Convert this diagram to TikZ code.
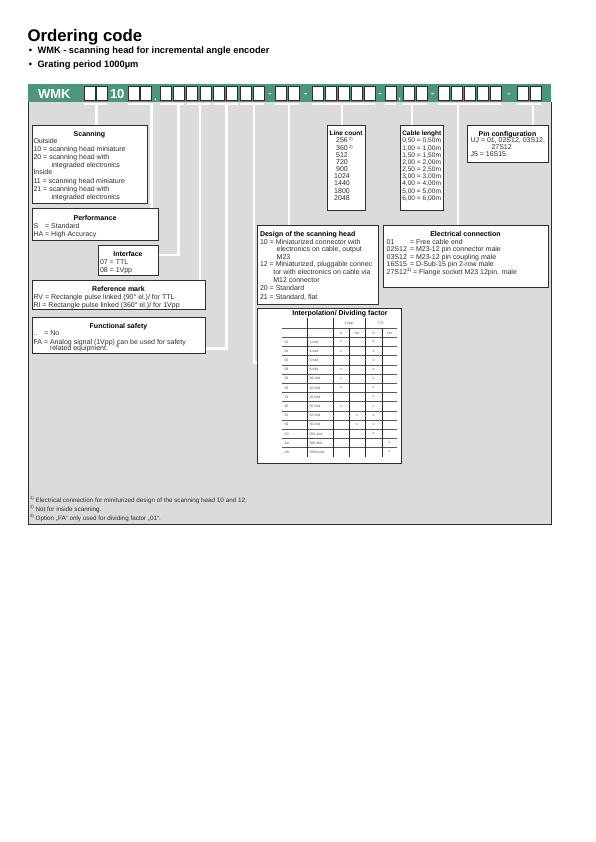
\documentclass[tikz,border=0pt]{standalone}
\usepackage{fontspec}
\setmainfont{Liberation Sans}
\usetikzlibrary{calc}
\definecolor{bargreen}{RGB}{76,151,124}
\definecolor{panelgrey}{RGB}{219,219,219}
\definecolor{txtgrey}{RGB}{45,45,45}
\definecolor{tabtxt}{RGB}{85,85,85}
\definecolor{edgecol}{RGB}{45,45,45}
\newcommand\fsbody{\fontsize{7}{8}\selectfont}
\newcommand\fsnarrow{\fontsize{6.5}{8}\selectfont}
\newcommand\fscab{\fontsize{6.6}{8}\selectfont}
\newcommand\fstab{\fontsize{3.5}{4}\selectfont}
\newcommand\fsfoot{\fontsize{6.3}{7.5}\selectfont}
\newcommand\fssup{\fontsize{4.3}{5}\selectfont}
\begin{document}
\begin{tikzpicture}[x=1pt,y=-1pt,
  every node/.style={inner sep=0pt, outer sep=0pt},
  cbox/.style={draw=edgecol, fill=white, line width=0.6pt, minimum width=11pt, minimum height=14pt, anchor=north west},
  dgeom/.style={anchor=north west},
  dbox/.style={draw=edgecol, fill=white, line width=0.7pt},
  leader/.style={draw=white, line width=2.5pt},
  bracket/.style={draw=white, line width=2pt},
  bt/.style={font=\fsbody\bfseries, text=black, anchor=base},
  btn/.style={font=\fsnarrow\bfseries, text=black, anchor=base},
  btl/.style={font=\fsbody\bfseries, text=black, anchor=base west},
  tx/.style={font=\fsbody, text=txtgrey, anchor=base west},
  txc/.style={font=\fsbody, text=txtgrey, anchor=base},
  cab/.style={font=\fscab, text=txtgrey, anchor=base west},
  tcell/.style={font=\fstab, text=tabtxt, anchor=base west},
  tmark/.style={font=\fstab, text=tabtxt, anchor=center},
  thead/.style={font=\fstab, text=tabtxt, anchor=base},
  tvl/.style={draw=edgecol, line width=0.8pt},
  thl/.style={draw=edgecol!80, line width=0.5pt},
  fn/.style={font=\fsfoot, text=txtgrey, anchor=base west},
  barsym/.style={font=\fontsize{9}{9}\selectfont\bfseries, text=white, anchor=base},
  bartxt/.style={font=\fontsize{13}{13}\selectfont\bfseries, text=white, anchor=base west}
]
\useasboundingbox (0,0) rectangle (595,842);

% ---------- heading ----------
\node[anchor=base west, font=\fontsize{16.8}{18}\selectfont\bfseries] (title) at (27.5,42) {Ordering code};
\node[anchor=base west, font=\fontsize{9.3}{11}\selectfont\bfseries] (bul1) at (28.8,54) {•};
\node[anchor=base west, font=\fontsize{9.3}{11}\selectfont\bfseries] (bul1t) at (37.5,54) {WMK - scanning head for incremental angle encoder};
\node[anchor=base west, font=\fontsize{9.3}{11}\selectfont\bfseries] (bul2) at (28.8,67.5) {•};
\node[anchor=base west, font=\fontsize{9.3}{11}\selectfont\bfseries] (bul2t) at (37.5,67.5) {Grating period 1000µm};

% ---------- panel and bar ----------
\node[fill=panelgrey, minimum width=523pt, minimum height=422pt, anchor=north west] (panel) at (28,102) {};
\draw[draw=edgecol, line width=1pt] (panel.north west) -- (panel.south west) -- (panel.south east) -- (panel.north east);
\node[fill=bargreen, minimum width=523pt, minimum height=18pt, anchor=north west] (bar) at (28,84) {};

\node[bartxt] (wmk) at (38,98.5) {WMK};
\node[bartxt] (ten) at (110,98.5) {10};

\foreach \x [count=\i] in {84,96} \node[cbox] (a\i) at (\x,86) {};
\foreach \x [count=\i] in {128,140} \node[cbox] (p\i) at (\x,86) {};
\foreach \x [count=\i] in {160,173.3,186.6,200,213.3,226.6,240,253.3} \node[cbox] (c\i) at (\x,86) {};
\foreach \x [count=\i] in {275,288} \node[cbox] (d\i) at (\x,86) {};
\foreach \x [count=\i] in {312,325,338,351,364} \node[cbox] (e\i) at (\x,86) {};
\node[cbox] (f1) at (385,86) {};
\foreach \x [count=\i] in {403,416} \node[cbox] (g\i) at (\x,86) {};
\foreach \x [count=\i] in {438,451,464,477,490} \node[cbox] (h\i) at (\x,86) {};
\foreach \x [count=\i] in {517,530} \node[cbox] (k\i) at (\x,86) {};

\node[barsym] (dot1) at (155.5,101) {.};
\node[barsym] (m1) at (269.8,96.3) {-};
\node[barsym] (m2) at (305.5,96.3) {-};
\node[barsym] (m3) at (380,96.3) {-};
\node[barsym] (com1) at (399.5,100) {,};
\node[barsym] (m4) at (432.5,96.3) {-};
\node[barsym] (m5) at (509,96.3) {-};

% ---------- brackets under the bar ----------
\draw[bracket] ($(a1.south west)+(0,4)$) -- ($(a2.south east)+(0,4)$);
\draw[bracket] ($(p1.south west)+(0,4)$) -- ($(p2.south east)+(0,4)$);
\draw[bracket] ($(c1.south west)+(0,4)$) -- ($(c2.south east)+(0,4)$);
\draw[bracket] ($(c3.south west)+(0,4)$) -- ($(c4.south east)+(0,4)$);
\draw[bracket] ($(c5.south west)+(0,4)$) -- ($(c6.south east)+(0,4)$);
\draw[bracket] ($(c7.south west)+(0,4)$) -- ($(c8.south east)+(0,4)$);
\draw[bracket] ($(d1.south west)+(0,4)$) -- ($(d2.south east)+(0,4)$);
\draw[bracket] ($(e1.south west)+(0,4)$) -- ($(e5.south east)+(0,4)$);
\draw[bracket] ($(f1.south west)+(0,4)$) -- ($(f1.south east)+(0,4)$);
\draw[bracket] ($(g1.south west)+(0,4)$) -- ($(g2.south east)+(0,4)$);
\draw[bracket] ($(h1.south west)+(0,4)$) -- ($(h5.south east)+(0,4)$);
\draw[bracket] ($(k1.south west)+(0,4)$) -- ($(k2.south east)+(0,4)$);

% ---------- description box geometry ----------
\node[dgeom, minimum width=115pt, minimum height=78pt] (scan) at (32,125) {};
\node[dgeom, minimum width=126pt, minimum height=32pt] (perf) at (32,208) {};
\node[dgeom, minimum width=60pt, minimum height=30pt] (iface) at (98,245) {};
\node[dgeom, minimum width=173pt, minimum height=29.5pt] (refm) at (32,280) {};
\node[dgeom, minimum width=173pt, minimum height=36pt] (fsafe) at (32,317) {};
\node[dgeom, minimum width=38pt, minimum height=85pt] (lcount) at (327,125) {};
\node[dgeom, minimum width=43.5pt, minimum height=85pt] (cable) at (400,125) {};
\node[dgeom, minimum width=81pt, minimum height=37pt] (pin) at (467,125) {};
\node[dgeom, minimum width=121pt, minimum height=79pt] (design) at (257,225) {};
\node[dgeom, minimum width=165pt, minimum height=62pt] (elec) at (383,225) {};
\node[dgeom, minimum width=144pt, minimum height=155pt] (tab) at (257,308) {};

\coordinate (tA) at (96.5,103);
\coordinate (tB) at (151.5,103);
\coordinate (tC1) at (178.5,103);
\coordinate (tC2) at (200,103);
\coordinate (tC3) at (226.5,103);
\coordinate (tC4) at (254,103);
\coordinate (tD) at (289,103);
\coordinate (tE) at (342,103);
\coordinate (tFG) at (412,103);
\coordinate (tH) at (458,103);
\coordinate (tI) at (533,103);
\coordinate (ifJ) at ($(iface.north east)!0.33!(iface.south east)$);
\coordinate (fsJ) at ($(fsafe.north east)!0.88!(fsafe.south east)$);
\coordinate (tbJ) at ($(tab.north west)!0.35!(tab.south west)$);

% ---------- leaders ----------
\draw[leader] (tA) -- (tA |- scan.north);
\draw[leader] (tB) -- (tB |- perf.north);
\draw[leader] (tC1) |- (ifJ);
\draw[leader] (tC2) -- (tC2 |- refm.north);
\draw[leader] (tC3) |- (fsJ);
\draw[leader] (tC4) |- (tbJ);
\draw[leader] (tD) -- (tD |- design.north);
\draw[leader] (tE) -- (tE |- lcount.north);
\draw[leader] (tFG) -- (tFG |- cable.north);
\draw[leader] (tH) -- (tH |- elec.north);
\draw[leader] (tI) -- (tI |- pin.north);

% ---------- boxes drawn over the leaders ----------
\foreach \b in {scan,perf,iface,refm,fsafe,lcount,cable,pin,design,elec,tab}
  \filldraw[dbox] (\b.north west) rectangle (\b.south east);

% ---------- Scanning ----------
\node[bt] (s0) at (89.5,136.3) {Scanning};
\node[tx] (s1) at (33.5,144) {Outside};
\node[tx] (s2) at (33.5,151.6) {10 = scanning head miniature};
\node[tx] (s3) at (33.5,159.6) {20 = scanning head with};
\node[tx] (s4) at (51.5,167.3) {integraded electronics};
\node[tx] (s5) at (33.5,175) {Inside};
\node[tx] (s6) at (33.5,183.3) {11 = scanning head miniature};
\node[tx] (s7) at (33.5,191.6) {21 = scanning head with};
\node[tx] (s8) at (51.5,200) {integraded electronics};

% ---------- Performance ----------
\node[bt] (pf0) at (95,220.5) {Performance};
\node[tx] (pf1) at (33.5,228.5) {S};
\node[tx] (pf1b) at (45.2,228.5) {= Standard};
\node[tx] (pf2) at (33.5,236.5) {HA = High Accuracy};

% ---------- Interface ----------
\node[bt] (if0) at (128,256.5) {Interface};
\node[tx] (if1) at (100,264.5) {07 = TTL};
\node[tx] (if2) at (100,272) {08 = 1Vpp};

% ---------- Reference mark ----------
\node[bt] (rm0) at (118.5,291.6) {Reference mark};
\node[tx] (rm1) at (33.5,299.6) {RV = Rectangle pulse linked (90° el.)/ for TTL};
\node[tx] (rm2) at (33.5,307.3) {RI = Rectangle pulse linked (360° el.)/ for 1Vpp};

% ---------- Functional safety ----------
\node[bt] (fs0) at (118.5,328.3) {Functional safety};
\node[tx] (fs1) at (33.5,335.6) {..};
\node[tx] (fs1b) at (44.4,335.6) {= No};
\node[tx] (fs2) at (33.5,344) {FA = Analog signal (1Vpp) can be used for safety};
\node[anchor=base west, font=\fssup, text=txtgrey] (fs2s) at (115.8,347.6) {3)};
\node[tx] (fs3) at (50,350.6) {related equipment.};

% ---------- Line count ----------
\node[btn] (lc0) at (346,135.8) {Line count};
\foreach \v [count=\i from 0] in {256,360,512,720,900,1024,1440,1800,2048}
  \node[txc] (lc\i x) at (342,{143+7.15*\i}) {\v};
\node[anchor=base west, font=\fssup, text=txtgrey] (lcs1) at (349,141) {2)};
\node[anchor=base west, font=\fssup, text=txtgrey] (lcs2) at (349,148.2) {2)};

% ---------- Cable length ----------
\node[btn] (cl0) at (421.75,135.8) {Cable lenght};
\foreach \v [count=\i from 0] in {{0,50 = 0,50m},{1,00 = 1,00m},{1,50 = 1,50m},{2,00 = 2,00m},{2,50 = 2,50m},{3,00 = 3,00m},{4,00 = 4,00m},{5,00 = 5,00m},{6,00 = 6,00m}}
  \node[cab] (cl\i x) at (402.3,{143+7.15*\i}) {\v};

% ---------- Pin configuration ----------
\node[bt] (pc0) at (507.5,136.3) {Pin configuration};
\node[tx] (pc1) at (470.5,143) {UJ = 01, 02S12, 03S12,};
\node[tx] (pc2) at (491.5,150) {27S12};
\node[tx] (pc3) at (470.5,157) {J5 = 16S15};

% ---------- Design of the scanning head ----------
\node[btl] (ds0) at (260,236.3) {Design of the scanning head};
\node[tx] (ds1) at (260,244) {10 = Miniaturized connector with};
\node[tx] (ds2) at (276.7,251.6) {electronics on cable, output};
\node[tx] (ds3) at (276.7,259) {M23};
\node[tx] (ds4) at (260,266.6) {12 = Miniaturized, pluggable connec};
\node[tx] (ds5) at (273.3,274.6) {tor with electronics on cable via};
\node[tx] (ds6) at (273.3,282.3) {M12 connector};
\node[tx] (ds7) at (260,290.6) {20 = Standard};
\node[tx] (ds8) at (260,299.6) {21 = Standard, flat};

% ---------- Electrical connection ----------
\node[bt] (ec0) at (465.5,236.3) {Electrical connection};
\node[tx] (ec1) at (386.7,244) {01};
\node[tx] (ec1b) at (410,244) {= Free cable end};
\node[tx] (ec2) at (386.7,251.6) {02S12};
\node[tx] (ec2b) at (410,251.6) {= M23-12 pin connector male};
\node[tx] (ec3) at (386.7,259) {03S12};
\node[tx] (ec3b) at (410,259) {= M23-12 pin coupling male};
\node[tx] (ec4) at (386.7,266.6) {16S15};
\node[tx] (ec4b) at (410,266.6) {= D-Sub-15 pin 2-row male};
\node[tx] (ec5) at (386.7,274.6) {27S12\textsuperscript{1)}};
\node[tx] (ec5b) at (413,274.6) {= Flange socket M23 12pin. male};

% ---------- Interpolation table ----------
\node[bt] (tb0) at (340,315.5) {Interpolation/ Dividing factor};
\node[thead] (th1) at (349,324.5) {1Vpp};
\node[thead] (th2) at (381,324.5) {TTL};
\node[thead] (th3) at (341,334) {S};
\node[thead] (th4) at (357,334) {HA};
\node[thead] (th5) at (373.5,334) {S};
\node[thead] (th6) at (389.5,334) {HA};
\draw[thl] (282,328) -- (397,328);
\foreach \k in {0,...,12}
  \draw[thl] (282,{337.4+9.17*\k}) -- (397,{337.4+9.17*\k});
\foreach \xx in {307,333,365}
  \draw[tvl] (\xx,318) -- (\xx,457.4);
\foreach \xx in {349,382}
  \draw[tvl] (\xx,328) -- (\xx,457.4);
\foreach \cc/\ff/\ma/\mb/\mc/\md [count=\i from 0] in
  {01/1-fold/1/0/1/0, 04/4-fold/1/0/1/0, 05/5-fold/0/0/1/0, 08/8-fold/1/0/1/0,
   10/10-fold/1/0/1/0, 16/16-fold/1/0/1/0, 20/20-fold/0/0/1/0, 25/25-fold/1/0/1/0,
   32/32-fold/0/1/1/0, 50/50-fold/0/1/1/0, A3/250-fold/0/0/1/0, A4/500-fold/0/0/0/1,
   A9/2500-fold/0/0/0/1}{
  \node[tcell] (tcode\i) at (284.5,{343.3+9.17*\i}) {\cc};
  \node[tcell] (tfold\i) at (309.5,{343.3+9.17*\i}) {\ff};
  \ifnum\ma=1 \node[tmark] (xa\i) at (341,{342+9.17*\i}) {x}; \fi
  \ifnum\mb=1 \node[tmark] (xb\i) at (357,{342+9.17*\i}) {x}; \fi
  \ifnum\mc=1 \node[tmark] (xc\i) at (373.5,{342+9.17*\i}) {x}; \fi
  \ifnum\md=1 \node[tmark] (xd\i) at (389.5,{342+9.17*\i}) {x}; \fi
}

% ---------- footnotes ----------
\node[fn] (fn1) at (30,502) {\textsuperscript{1)}\hspace{1.2pt}Electrical connection for miniturized design of the scanning head 10 and 12.};
\node[fn] (fn2) at (30,511) {\textsuperscript{2)}\hspace{1.2pt}Not for inside scanning.};
\node[fn] (fn3) at (30,520) {\textsuperscript{3)}\hspace{1.2pt}Option „FA“ only used for dividing factor „01“.};
\end{tikzpicture}
\end{document}
